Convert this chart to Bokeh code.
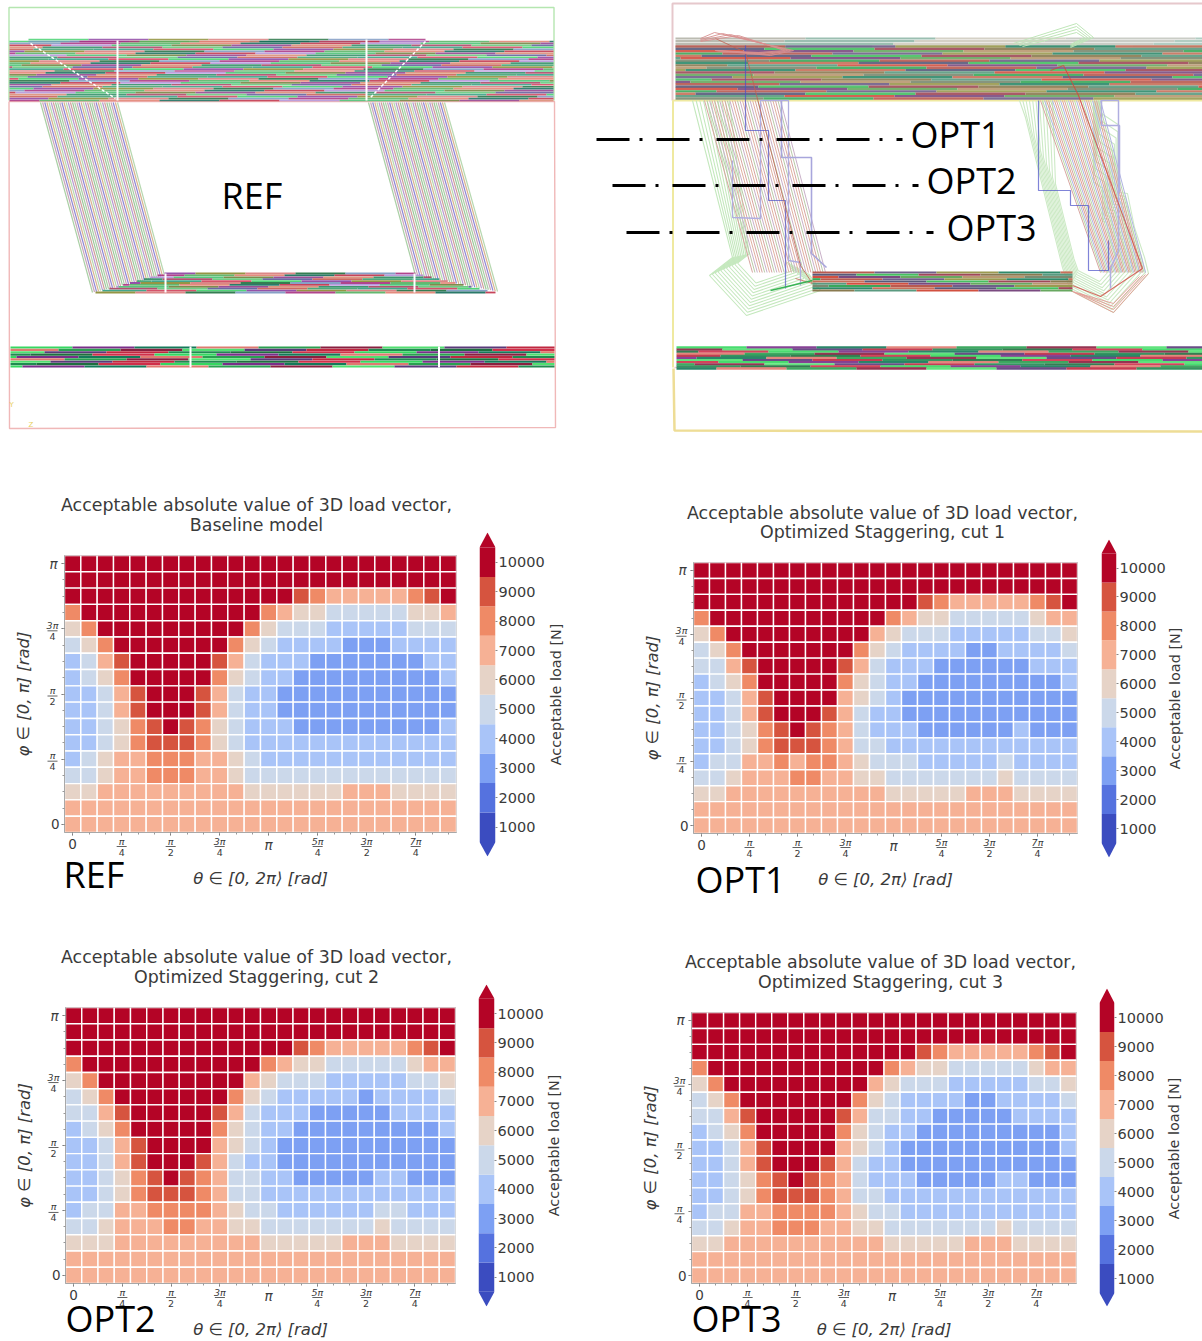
import math
from bokeh.plotting import figure
from bokeh.layouts import column, row
from bokeh.models import (Label, LinearColorMapper, FixedTicker, ColumnDataSource, Range1d)
from bokeh.embed import file_html
from bokeh.resources import INLINE
from bokeh.core.properties import value

# ---------- load tables (kN, top row first) ----------
T = [10] * 24
S7 = [7] * 24
R3 = [10] * 14 + [9, 8, 7, 7, 7, 7, 7, 8, 9, 10]
REF_LOAD = [T, T, R3,
    [8] + [10] * 11 + [8, 7, 6, 6, 5, 5, 5, 5, 5, 6, 6, 7],
    [6, 8] + [10] * 9 + [8, 6, 5, 5, 5, 4, 4, 4, 4, 4, 5, 5, 5],
    [5, 6, 8] + [10] * 7 + [8, 6, 5, 4, 4, 4, 4, 3, 3, 3, 4, 4, 4, 4],
    [4, 5, 7, 9] + [10] * 5 + [9, 7, 5, 4, 4, 4, 3, 3, 3, 3, 3, 3, 3, 4, 4],
    [4, 5, 6, 8] + [10] * 5 + [8, 6, 5, 4, 4] + [3] * 9 + [4],
    [4, 4, 5, 7, 9, 10, 10, 10, 9, 7, 5, 4, 4] + [3] * 11,
    [4, 4, 5, 7, 9, 10, 10, 10, 9, 7, 5, 4, 4] + [3] * 11,
    [4, 4, 5, 6, 8, 9, 10, 9, 8, 6, 5, 4, 4, 4] + [3] * 9 + [4],
    [4, 4, 5, 6, 8, 9, 9, 9, 8, 6, 5, 4, 4] + [4] * 11,
    [4, 5, 6, 7, 7, 8, 8, 8, 7, 7, 6, 5, 4] + [4] * 11,
    [5, 5, 6, 7, 7, 8, 8, 8, 7, 7, 6, 5] + [5] * 12,
    [6, 6] + [7] * 9 + [6] * 6 + [7, 7, 7] + [6] * 4,
    S7, S7]
O_R4 = [8] + [10] * 11 + [8, 7, 6, 6, 5, 5, 5, 5, 5, 6, 7, 7]
O_R5 = [6, 8] + [10] * 9 + [7, 6, 5, 5, 5, 4, 4, 4, 4, 4, 5, 5, 6]
O_R8 = [4, 5, 6, 8] + [10] * 5 + [8, 6, 5, 4, 4] + [3] * 9 + [4]
O_R10 = [4, 4, 5, 7, 9, 10, 10, 10, 9, 7, 5, 4, 4] + [3] * 11
OPT1_LOAD = [T, T, R3, O_R4, O_R5,
    [5, 6, 8] + [10] * 7 + [8, 6, 5, 4, 4, 4, 4, 3, 3, 4, 4, 4, 4, 5],
    [5, 5, 7, 9] + [10] * 5 + [9, 7, 5, 4, 4, 4, 3, 3, 3, 3, 3, 3, 4, 4, 4],
    O_R8,
    [4, 4, 5, 7, 9] + [10] * 4 + [7, 6, 5, 4] + [3] * 11,
    O_R10,
    [4, 4, 5, 6, 8, 9, 10, 9, 8, 7, 5, 4, 4, 4] + [3] * 6 + [4, 3, 3, 3],
    [4, 4, 5, 6, 8, 9, 9, 9, 8, 7, 5, 5] + [4] * 12,
    [4, 5, 5, 7, 7, 8, 7, 8, 8, 7, 6, 5, 5, 5] + [4] * 5 + [5, 4, 4, 4, 4],
    [5, 5, 6, 7, 7, 7, 8, 8, 7, 7, 6, 6] + [5] * 7 + [6] + [5] * 4,
    [6, 6] + [7] * 10 + [6] * 5 + [7, 7, 7] + [6] * 4,
    S7, S7]
OPT2_LOAD = [T, T, R3, O_R4, O_R5,
    [5, 6, 8] + [10] * 7 + [8, 6, 5, 4, 4, 4, 4, 4, 3, 4, 4, 4, 4, 5],
    [5, 5, 7, 9] + [10] * 5 + [9, 7, 5, 4, 4, 4, 3, 3, 3, 3, 3, 4, 4, 4, 4],
    O_R8,
    [4, 4, 5, 7, 9] + [10] * 4 + [7, 6, 5, 4] + [3] * 11,
    O_R10,
    [4, 4, 5, 6, 8, 9, 10, 9, 8, 7, 5, 5, 4, 4] + [3] * 5 + [4, 4, 3, 3, 3],
    [4, 4, 5, 6, 8, 9, 9, 9, 8, 7, 5, 5] + [4] * 12,
    [4, 5, 5, 7, 7, 8, 8, 8, 8, 7, 6, 5, 5] + [4] * 6 + [5, 5, 4, 4, 4],
    [5, 5, 6, 7, 7, 7, 8, 8, 7, 7, 6, 6] + [5] * 7 + [6] + [5] * 4,
    [6, 6, 6] + [7] * 9 + [6] * 5 + [7, 7, 7] + [6] * 4,
    S7, S7]
OPT3_LOAD = [T, T, R3, O_R4, O_R5,
    [5, 6, 8] + [10] * 7 + [8, 6, 5, 4, 4, 4, 4, 3, 3, 4, 4, 4, 4, 5],
    [5, 5, 7, 9] + [10] * 5 + [9, 7, 5, 5, 4, 4, 3, 3, 3, 3, 3, 4, 4, 4, 4],
    O_R8,
    [4, 4, 5, 7, 9] + [10] * 4 + [7, 6, 5, 4] + [3] * 10 + [4],
    O_R10,
    [4, 4, 5, 6, 8, 9, 10, 9, 8, 7, 5, 4, 4, 4] + [3] * 5 + [4, 4, 3, 3, 3],
    [4, 4, 5, 6, 8, 9, 9, 9, 8, 7, 5, 5] + [4] * 12,
    [4, 5, 5, 7, 7, 8, 8, 8, 8, 7, 6, 5, 5] + [4] * 11,
    [5, 5, 6, 7, 7, 8, 8, 8, 7, 7, 6, 6] + [5] * 7 + [6] + [5] * 4,
    [6, 6] + [7] * 10 + [6] * 5 + [7, 7, 7] + [6] * 4,
    S7, S7]

LEVELS = [1000, 2000, 3000, 4000, 5000, 6000, 7000, 8000, 9000, 10000]
LEVEL_COLORS = ["#3b4cc0", "#5572df", "#7da0f3", "#a9c4f8", "#cbd8ea",
                "#e6d3c7", "#f6b195", "#ef8a66", "#d6543f", "#b40426"]
X_FRACTIONS = [(3, "π", "4"), (6, "π", "2"), (9, "3π", "4"),
               (15, "5π", "4"), (18, "3π", "2"), (21, "7π", "4")]
Y_FRACTIONS = [(4, "π", "4"), (8, "π", "2"), (12, "3π", "4")]
TITLE_1 = "Acceptable absolute value of 3D load vector,"
SUBTITLES = ["Baseline model", "Optimized Staggering, cut 1",
             "Optimized Staggering, cut 2", "Optimized Staggering, cut 3"]
CBAR_LABEL = "Acceptable load [N]"
FONT = "DejaVu Sans"
TXT = "#3a3a3a"

mapper = LinearColorMapper(palette=LEVEL_COLORS, low=500, high=10500)


def heat(load, W, H, left, top, fw, fh):
    p = figure(width=W, height=H, output_backend="svg", toolbar_location=None,
               x_range=Range1d(0, 24), y_range=Range1d(0, 17), frame_align=False,
               min_border_left=left, min_border_top=top,
               min_border_right=W - left - fw, min_border_bottom=H - top - fh,
               background_fill_color="white", border_fill_color=None)
    xs, ys, vs = [], [], []
    for j, r in enumerate(load):
        for i, v in enumerate(r):
            xs.append(i + 0.5); ys.append(16.5 - j); vs.append(v * 1000)
    src = ColumnDataSource(dict(x=xs, y=ys, v=vs))
    p.rect("x", "y", 1, 1, source=src, fill_color={"field": "v", "transform": mapper},
           line_color="white", line_width=1.4)
    p.grid.visible = False
    p.outline_line_color = "#a8a8a8"
    p.outline_line_width = 1
    xa, ya = p.xaxis[0], p.yaxis[0]
    xa.ticker = FixedTicker(ticks=[i + 0.5 for i in range(0, 24, 3)],
                            minor_ticks=[i + 0.5 for i in range(24)])
    ya.ticker = FixedTicker(ticks=[i + 0.5 for i in range(0, 17, 4)],
                            minor_ticks=[i + 0.5 for i in range(17)])
    xa.major_label_overrides = {i + 0.5: "" for i in range(0, 24, 3)}
    xa.major_label_overrides[0.5] = "0"
    ya.major_label_overrides = {i + 0.5: "" for i in range(0, 17, 4)}
    ya.major_label_overrides[0.5] = "0"
    for a in (xa, ya):
        a.axis_line_color = "#a8a8a8"
        a.major_tick_line_color = "#666666"
        a.minor_tick_line_color = "#999999"
        a.major_tick_out = 3; a.major_tick_in = 0
        a.minor_tick_out = 2; a.minor_tick_in = 0
        a.major_label_text_font = FONT
        a.major_label_text_font_size = "13.5px"
        a.major_label_text_color = TXT
        a.axis_label_text_font = FONT
        a.axis_label_text_font_size = "16.5px"
        a.axis_label_text_font_style = "italic"
        a.axis_label_text_color = TXT
    ya.major_label_orientation = "horizontal"
    xa.major_label_standoff = 3
    ya.major_label_standoff = 2
    xa.axis_label = "θ ∈ [0, 2π⟩ [rad]"
    ya.axis_label = "φ ∈ [0, π] [rad]"
    xa.axis_label_standoff = 17
    ya.axis_label_standoff = 15
    return p


def cbar(W, H, left, fw, top, bottom, y1000, y10000):
    per = (y1000 - y10000) / 9000.0
    ymax = 10000 + (y10000 - top) / per
    ymin = 1000 - (bottom - y1000) / per
    p = figure(width=W, height=H, output_backend="svg", toolbar_location=None,
               x_range=Range1d(0, 1), y_range=Range1d(ymin, ymax), y_axis_location="right",
               frame_align=False,
               min_border_left=left, min_border_right=W - left - fw,
               min_border_top=top, min_border_bottom=H - bottom,
               border_fill_color=None, outline_line_color=None)
    src = ColumnDataSource(dict(y=LEVELS, c=LEVELS))
    p.rect(0.5, "y", 1, 1000, source=src, fill_color={"field": "c", "transform": mapper},
           line_color=None)
    p.patch([0, 1, 0.5], [10500, 10500, ymax], fill_color=LEVEL_COLORS[-1], line_color=None)
    p.patch([0, 1, 0.5], [500, 500, ymin], fill_color=LEVEL_COLORS[0], line_color=None)
    p.grid.visible = False
    p.xaxis.visible = False
    a = p.yaxis[0]
    a.ticker = FixedTicker(ticks=LEVELS, minor_ticks=[])
    a.axis_line_color = None
    a.major_tick_line_color = "#888888"
    a.major_tick_out = 2; a.major_tick_in = 0
    a.major_label_text_font = FONT
    a.major_label_text_font_size = "14.5px"
    a.major_label_text_color = TXT
    a.major_label_standoff = 1
    return p


# ---------- mesh pictures ----------
REF_COLORS = ["#2f9c80", "#d0405a", "#3fd06a", "#8a3fa0", "#8a8a30", "#d77a7a", "#1f6f3f", "#7a96c0",
              "#a83080", "#52b060", "#e08070", "#146b5a", "#c03048", "#b090d8", "#44c070", "#6f7f3a",
              "#903c8c", "#d98870", "#2a8a60", "#a84060", "#60c878", "#5a5a9a", "#c85a50", "#3aa070"]
OPT_COLORS = ["#7a8a70", "#3aa85a", "#b85a50", "#6f5f8a", "#9a9a50", "#2e8a6a", "#c8705a", "#585a7a",
              "#45c060", "#a04858", "#8a7a50", "#5a9a80", "#d25040", "#7a4a80", "#68a860", "#b89870"]
LOW_COLORS = ["#1f6f3f", "#d0304a", "#35d860", "#7a2f8a", "#147a5a", "#e07a70", "#2aa050", "#8a2040",
              "#50e070", "#5a3a7a", "#c02840", "#208a50"]

top = figure(width=1202, height=470, output_backend="svg", toolbar_location=None,
             x_range=Range1d(0, 1202), y_range=Range1d(470, 0), min_border=0, frame_align=False,
             outline_line_color=None, border_fill_color=None)
top.axis.visible = False
top.grid.visible = False


def band(y0, y1, step, x0, x1, length, shift, colors, lw, hop=5, left=None, right=None, alpha=1.0):
    X0, Y0, X1, Y1, C = [], [], [], [], []
    n = int(round((y1 - y0) / step))
    for r in range(n + 1):
        y = y0 + (y1 - y0) * r / n
        a = x0 if left is None else left[0] + (left[1] - left[0]) * r / n
        b = x1 if right is None else right[0] + (right[1] - right[0]) * r / n
        s = 0
        x = x0 - 2 * length - (r * shift) % length
        while x < b:
            e = x + length
            if e > a:
                X0.append(max(x, a)); X1.append(min(e, b)); Y0.append(y); Y1.append(y)
                C.append(colors[(s + r * hop) % len(colors)])
            x = e; s += 1
    top.segment(X0, Y0, X1, Y1, line_color=C, line_width=lw, line_alpha=alpha)


def leg(tl, tr, bl, br, n, colors, y_top, y_bl, y_br, lw=1.0, alpha=1.0):
    X0, Y0, X1, Y1, C = [], [], [], [], []
    for i in range(n + 1):
        t = i / n
        X0.append(tl + (tr - tl) * t); Y0.append(y_top)
        X1.append(bl + (br - bl) * t); Y1.append(y_bl + (y_br - y_bl) * t)
        C.append(colors[i % len(colors)])
    top.segment(X0, Y0, X1, Y1, line_color=C, line_width=lw, line_alpha=alpha)


def poly(xs, ys, color, lw=1.0, alpha=1.0):
    top.line(xs, ys, line_color=color, line_width=lw, line_alpha=alpha)


def nested(shape, cx, cy, count, color):
    for k in range(count):
        s = 1 - 0.05 * k
        xs = [cx + (x - cx) * s for x in shape[0]]
        ys = [y if y == 100 else cy + (y - cy) * s for y in shape[1]]
        poly(xs, ys, color, 1.1)


LEG_COLORS = ["#a9cfa4", "#c9a7b8", "#8f86d4", "#d8b48f", "#b6d8b0", "#b79ad0", "#cf9f9a", "#9cc79c"]
# left picture
poly([8.5, 8.5, 553.5, 553.5], [100, 7, 7, 100], "#b5e6b0", 1.4)
poly([8.5, 9, 555, 554, 8.5], [101, 428, 427, 101, 101], "#f0b8b8", 1.4)
band(41, 100, 2, 9, 553, 60, 9, REF_COLORS, 1.7, alpha=0.85)
band(39, 41, 2, 28, 425, 60, 9, REF_COLORS, 1.5, alpha=0.8)
leg(40, 117, 92, 164, 36, LEG_COLORS, 102, 292, 275, lw=1.2)
leg(368, 444, 415, 497, 36, LEG_COLORS, 102, 275, 291, lw=1.2)
band(273, 292, 2, 95, 495, 50, 11, REF_COLORS, 1.8, left=(164, 95), right=(415, 495), alpha=0.9)
band(347, 366, 2.4, 10, 554, 62, 14, LOW_COLORS, 2.2, hop=3)
for x, y0, y1 in [(117, 40, 100), (366, 39, 100), (165, 273, 292), (414, 273, 292), (190, 346, 367), (438.5, 346, 367)]:
    top.segment([x], [y0], [x], [y1], line_color="white", line_width=2)
top.line([30, 115], [43, 98], line_color="white", line_width=1.5, line_dash="3 2")
top.line([425, 370], [41, 97], line_color="white", line_width=1.5, line_dash="3 2")
top.text([9, 28], [408, 428], text=["Y", "Z"], text_font=value("DejaVu Sans"), text_font_size="7px", text_color="#e8d060")

# right picture
poly([672, 672, 1202], [100, 3, 3], "#e6c8cc", 2)
poly([672.5, 672.5, 1202], [367, 100, 100], "#efe9a0", 2)
poly([673, 674, 1202], [368, 430, 431], "#eedd96", 2.5)
poly([674, 1202], [367, 367], "#f0c8c8", 1.5)
band(38, 46, 2.4, 675, 1202, 130, 21, ["#c4c8c0", "#a8c8bc", "#b4b4a8", "#90b8a8", "#d0ccc0"], 2.2, alpha=0.9)
band(46, 98, 2.4, 675, 1202, 110, 21, OPT_COLORS, 2.4, alpha=0.9)
GREEN_L = ([692, 732, 709, 746, 820, 808], [100, 257, 275, 315, 290, 273])
GREEN_R = ([1019, 1025, 1062, 1070, 1113, 1148, 1144, 1134, 1127, 1119, 1119, 1101, 1101],
           [100, 117, 267, 290, 312, 273, 257, 227, 193, 192, 125, 113, 100])
nested(GREEN_L, 765, 250, 11, "#c4e8bd")
nested(GREEN_R, 1085, 250, 11, "#cdeac6")
leg(704, 780, 752, 825, 30, ["#d7a5a0", "#b9c9a8", "#c9b0c8", "#e0b0a0"], 100, 272, 272)
leg(1040, 1100, 1100, 1145, 30, ["#d7a5a0", "#b9d9a8", "#b0b4e0", "#e0a090"], 100, 272, 272)
poly([781, 781, 811, 811, 826], [100, 157, 157, 253, 267], "#a8a6dc", 1.6)
poly([732, 732, 760, 760, 788, 788, 800, 800], [160, 217, 218, 100, 100, 260, 262, 285], "#b0aee0", 1.3)
poly([745, 745, 768, 768, 785, 785], [45, 130, 130, 200, 200, 288], "#4a50c8", 1.2, 0.7)
poly([1119, 1119, 1101, 1101, 1118, 1118, 1110, 1110], [192, 125, 125, 100, 100, 250, 268, 288], "#b0aee0", 1.5)
poly([1038, 1038, 1070, 1070, 1088, 1088, 1108, 1108], [100, 190, 190, 205, 205, 270, 270, 240], "#4a50c8", 1.2, 0.7)
poly([1050, 1063, 1078, 1142, 1100, 1072], [70, 65, 95, 268, 296, 285], "#d04840", 1.1, 0.8)
poly([715, 745, 800, 812, 795], [38, 52, 265, 283, 278], "#c06050", 1.0, 0.8)
for k in range(4):
    poly([1013 + 3 * k, 1076, 1093 - 3 * k, 1070], [43 + k, 23 + 3 * k, 37, 47 - k], "#bfe6b8", 1.0)
    poly([700, 714 + 8 * k, 793 - 3 * k, 770 - 4 * k, 715], [38 + k, 32 + k, 50, 55 - k, 50], "#d89090", 0.9)
    poly([1070 + 3 * k, 1113, 1148 - 3 * k], [290 + k, 312 - 3 * k, 273 + k], "#e49a94", 0.9)
poly([770, 812], [290, 280], "#39b456", 1.5)
band(272, 290, 2.4, 812, 1072, 62, 18, OPT_COLORS, 2.2)
band(347, 368, 2.2, 676, 1202, 70, 24, LOW_COLORS, 2.3, hop=5, alpha=0.9)

DASH = "33 10 3 14"
for y, x0, x1, label, lx in [(139, 596, 902, "OPT1", 910), (185, 612, 918, "OPT2", 926), (232, 626, 933, "OPT3", 946)]:
    top.line([x0, x1], [y, y], line_color="black", line_width=3, line_dash=DASH)
    top.add_layout(Label(text=label, x=lx, y=470 - (y - 5), x_units="screen", y_units="screen",
                         text_font="Open Sans", text_font_size="36px", text_color="black",
                         text_align="left", text_baseline="middle"))
top.add_layout(Label(text="REF", x=221, y=470 - 195, x_units="screen", y_units="screen",
                     text_font="Open Sans", text_font_size="36px", text_color="black",
                     text_align="left", text_baseline="middle"))

# ---------- text layer over the whole page ----------
over = figure(width=1202, height=1341, output_backend="svg", toolbar_location=None,
              x_range=Range1d(0, 1202), y_range=Range1d(1341, 0), min_border=0, frame_align=False,
              outline_line_color=None, border_fill_color=None, background_fill_color=None)
over.axis.visible = False
over.grid.visible = False
over.styles = {"position": "absolute", "left": "0px", "top": "0px"}


def put(x, y, text, size, style="normal", font=FONT, color=TXT, align="center", angle=0.0):
    over.text([x], [y], text=[text], text_font=value(font), text_font_size=value(size), text_color=color,
              text_font_style=style, text_align=align, text_baseline="middle", angle=angle)


def frac(xc, yc, num, den):
    put(xc, yc - 5.5, num, "9.5px", "italic")
    over.segment([xc - 5], [yc], [xc + 5], [yc], line_color=TXT, line_width=0.8)
    put(xc, yc + 5.5, den, "9.5px")


def annotate(fx, fy, fw, fh, title_xc, title_ys, sub, tag, tag_xy, cb_xy):
    cw, ch = fw / 24.0, fh / 17.0
    for i, n, d in X_FRACTIONS:
        frac(fx + (i + 0.5) * cw, fy + fh + 14, n, d)
    for j, n, d in Y_FRACTIONS:
        frac(fx - 12, fy + fh - (j + 0.5) * ch + 2, n, d)
    put(fx + 12.5 * cw, fy + fh + 12, "π", "13.5px", "italic")
    put(fx - 11, fy + 0.5 * ch, "π", "13.5px", "italic")
    for t, yy in zip((TITLE_1, sub), title_ys):
        put(title_xc, yy, t, "17.4px")
    put(tag_xy[0], tag_xy[1], tag, "36px", font="Open Sans", color="black", align="left")
    put(cb_xy[0], cb_xy[1], CBAR_LABEL, "14.4px", angle=math.pi / 2)


# ---------- panels (positions follow the reference page) ----------
Y1, H1 = 470, 430
Y2, H2 = 900, 441
h_ref = heat(REF_LOAD, 475, H1, 64, 555 - Y1, 392, 277)
c_ref = cbar(125, H1, 4, 16, 532 - Y1, 856 - Y1, 826.7 - Y1, 561.7 - Y1)
h_o1 = heat(OPT1_LOAD, 498, H1, 93, 562 - Y1, 384, 271)
c_o1 = cbar(104, H1, 3, 15, 539 - Y1, 857 - Y1, 828 - Y1, 567.5 - Y1)
h_o2 = heat(OPT2_LOAD, 475, H2, 65, 1007 - Y2, 390, 276)
c_o2 = cbar(125, H2, 3, 16, 984 - Y2, 1306 - Y2, 1276.7 - Y2, 1013 - Y2)
h_o3 = heat(OPT3_LOAD, 498, H2, 91, 1012 - Y2, 385, 271)
c_o3 = cbar(104, H2, 1, 15, 988 - Y2, 1306 - Y2, 1278 - Y2, 1017 - Y2)

annotate(64, 555, 392, 277, 256, (504, 524), SUBTITLES[0], "REF", (63, 874), (555, 694))
annotate(693, 562, 384, 271, 882, (512, 531), SUBTITLES[1], "OPT1", (695, 879), (1174, 698))
annotate(65, 1007, 390, 276, 256, (956, 976), SUBTITLES[2], "OPT2", (65, 1318), (553, 1145))
annotate(691, 1012, 385, 271, 880, (961, 981), SUBTITLES[3], "OPT3", (691, 1318), (1173, 1148))

page = column(top, row(h_ref, c_ref, h_o1, c_o1, spacing=0), row(h_o2, c_o2, h_o3, c_o3, spacing=0), over, spacing=0)
open("out.html", "w").write(file_html(page, INLINE))
